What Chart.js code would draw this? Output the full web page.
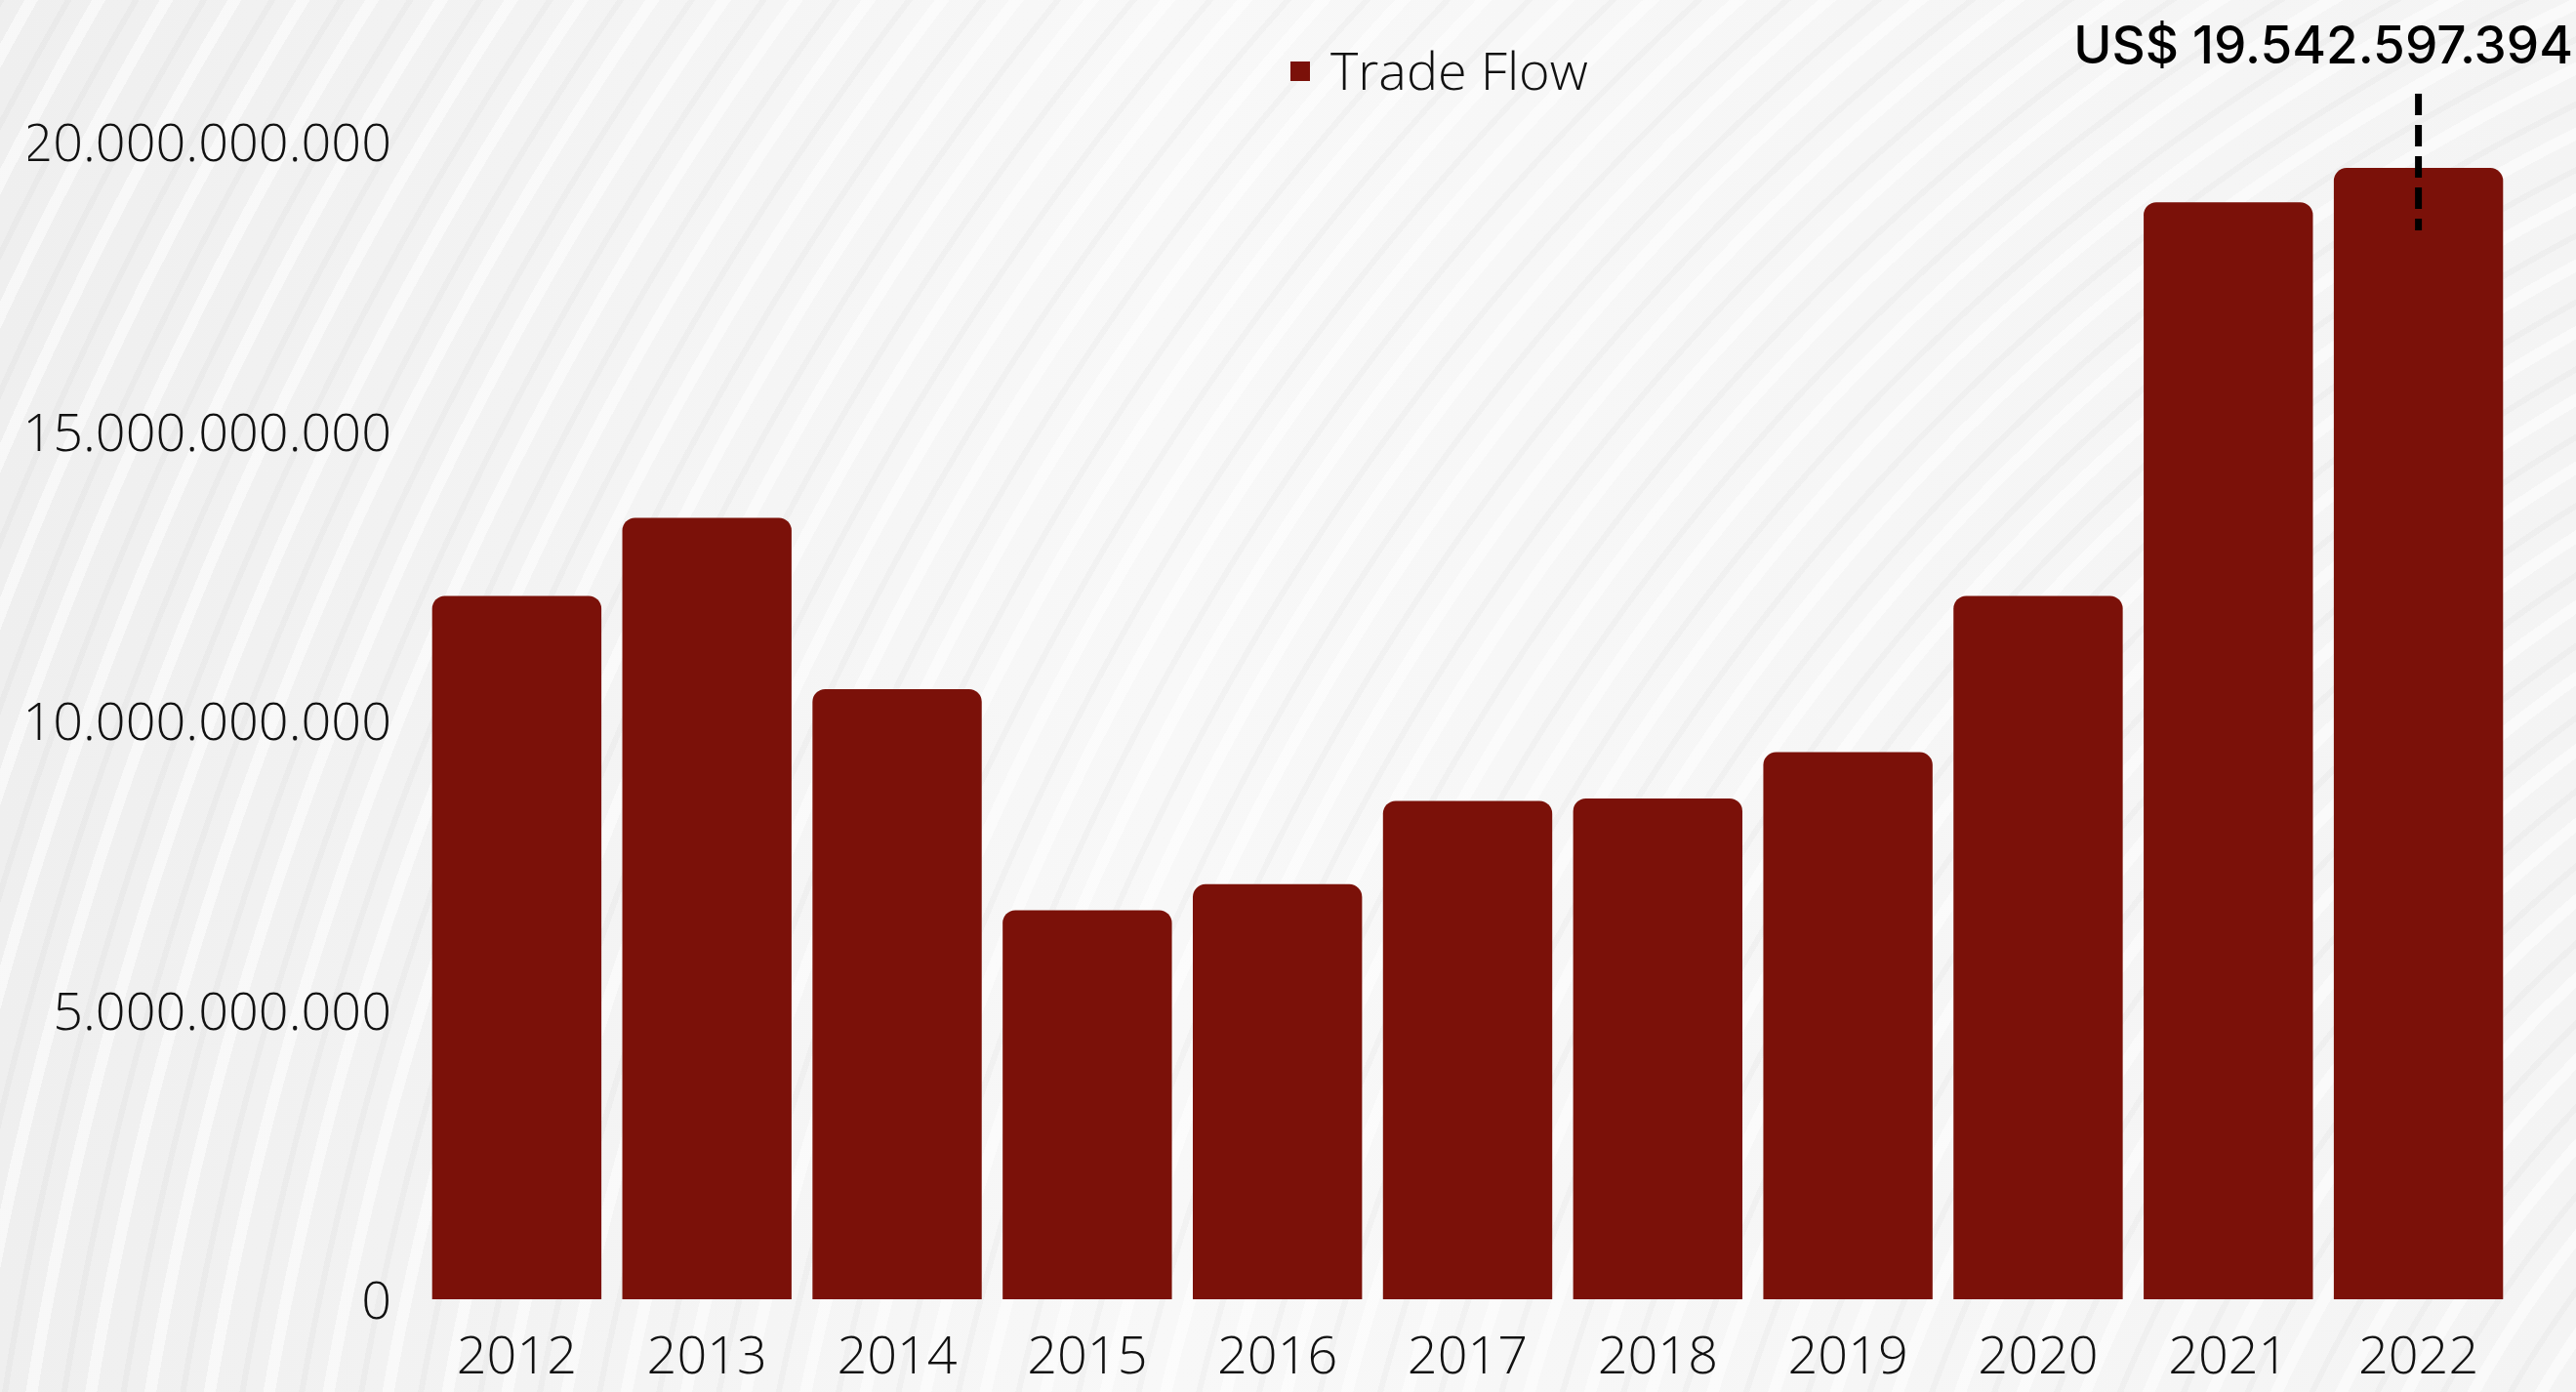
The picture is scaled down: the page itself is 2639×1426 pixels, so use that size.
<!DOCTYPE html>
<html>
<head>
<meta charset="utf-8">
<script src="https://cdn.jsdelivr.net/npm/chart.js@4.4.1/dist/chart.umd.min.js"></script>
<style>
  html, body { margin: 0; padding: 0; overflow: hidden; }
  body {
    width: 2639px; height: 1426px;
    background-color: #f5f5f5;
    background-image:
      repeating-radial-gradient(circle at 135% 140%, rgba(0,0,0,0.025) 0 6px, rgba(255,255,255,0) 6px 30px, rgba(255,255,255,0.55) 30px 42px, rgba(255,255,255,0) 42px 60px),
      linear-gradient(90deg, #efefef 0%, #f8f8f8 45%, #f4f4f4 100%);
  }
  #wrap { position: relative; width: 2639px; height: 1426px; }
</style>
</head>
<body>
<div id="wrap"><canvas id="tradeChart"></canvas></div>
<script>
// data
const years = ["2012", "2013", "2014", "2015", "2016", "2017", "2018", "2019", "2020", "2021", "2022"];
const tradeFlow = [12150000000, 13500000000, 10540000000, 6720000000, 7170000000, 8610000000,
                   8650000000, 9450000000, 12150000000, 18950000000, 19542597394];
const yTicks = [0, 5000000000, 10000000000, 15000000000, 20000000000];
const seriesName = "Trade Flow";
const highlightLabel = "US$ 19.542.597.394";

const barColor = "#7b1109";

function fmtDots(v) {
    return String(Math.round(v)).replace(/\B(?=(\d{3})+(?!\d))/g, ".");
}

// legend + highlight marker drawn on top
const extras = {
    id: "extras",
    afterDraw(chart) {
        const ctx = chart.ctx;
        const ds = chart.data.datasets[0];
        ctx.save();
        // legend
        ctx.fillStyle = ds.backgroundColor;
        ctx.fillRect(1322, 63, 20, 20);
        ctx.fillStyle = "#111";
        ctx.font = "300 54px 'Open Sans'";
        ctx.textBaseline = "alphabetic";
        ctx.textAlign = "left";
        ctx.fillText(ds.label, 1363, 92);

        // dashed marker on last bar
        const last = ds.data.length - 1;
        const meta = chart.getDatasetMeta(0);
        const bar = meta.data[last];
        ctx.strokeStyle = "#000";
        ctx.lineWidth = 7;
        ctx.setLineDash([22, 10]);
        ctx.beginPath();
        ctx.moveTo(bar.x, 96);
        ctx.lineTo(bar.x, bar.y + 64);
        ctx.stroke();
        ctx.setLineDash([]);

        ctx.fillStyle = "#000";
        ctx.font = "500 53px 'Inter', 'Noto Sans', sans-serif";
        ctx.textAlign = "right";
        ctx.fillText(highlightLabel, 2636, 65);
        ctx.restore();
    }
};

const ctx = document.getElementById("tradeChart");
new Chart(ctx, {
    type: "bar",
    data: {
        labels: years,
        datasets: [{
            label: seriesName,
            data: tradeFlow,
            backgroundColor: barColor,
            borderRadius: { topLeft: 13, topRight: 13, bottomLeft: 0, bottomRight: 0 },
            borderSkipped: "start",
            barPercentage: 0.89,
            categoryPercentage: 1.0
        }]
    },
    options: {
        responsive: true,
        maintainAspectRatio: false,
        animation: false,
        layout: { padding: { left: 29, right: 64, top: 145, bottom: 0 } },
        plugins: {
            legend: { display: false },
            tooltip: { enabled: false }
        },
        scales: {
            x: {
                grid: { display: false, drawTicks: false },
                border: { display: false },
                ticks: {
                    color: "#111",
                    font: { family: "'Open Sans'", size: 54, weight: 300 },
                    padding: 28,
                    maxRotation: 0
                },
                afterFit(axis) { axis.height = 95; }
            },
            y: {
                min: 0,
                max: 20000000000,
                grid: { display: false, drawTicks: false },
                border: { display: false },
                afterBuildTicks(axis) { axis.ticks = yTicks.map(v => ({ value: v })); },
                ticks: {
                    color: "#111",
                    font: { family: "'Open Sans'", size: 54, weight: 300 },
                    padding: 31,
                    labelOffset: 5,
                    callback: (v) => fmtDots(v)
                },
                afterFit(axis) { axis.width = 403; }
            }
        }
    },
    plugins: [extras]
});
</script>
</body>
</html>
